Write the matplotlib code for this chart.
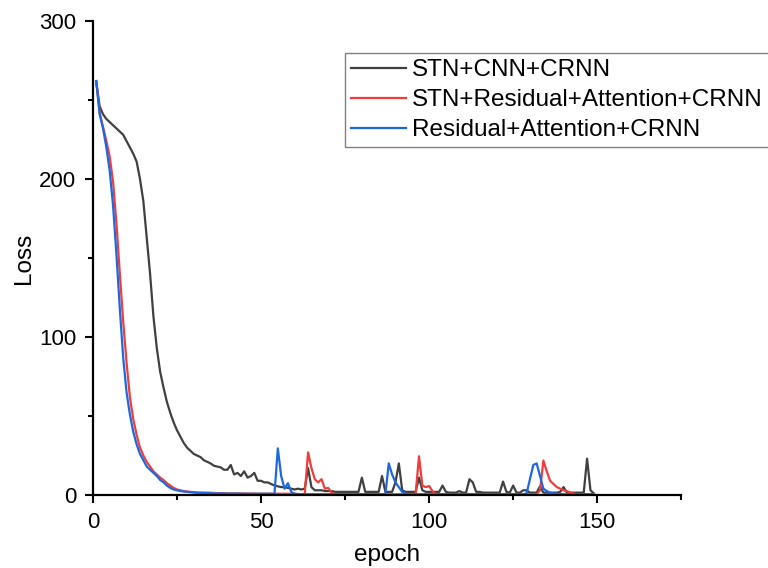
import matplotlib
matplotlib.use("Agg")
import numpy as np
import matplotlib.pyplot as plt
from matplotlib.ticker import MultipleLocator

plt.rcParams['font.family'] = ['Liberation Sans', 'DejaVu Sans']

# Loss per epoch
epochs = list(range(1, 150))

stn_cnn_crnn = [
    261, 246, 241, 238, 236, 234, 232, 230, 228, 224,
    220, 216, 211, 200, 186, 163, 140, 113, 93, 78,
    68, 59, 52, 46, 41, 37, 33, 30, 28, 26,
    25, 24, 22, 21, 20, 18.5, 18, 17.5, 16, 16,
    19, 13, 14, 12, 15, 11, 12, 14, 9, 9,
    8, 8, 7, 6, 5.5, 5, 5, 4.5, 4, 3.5,
    4, 3.5, 4, 17, 5, 3, 3, 3, 2.5, 2.5,
    2.5, 2, 2, 2, 2, 2, 2, 2, 2, 11,
    2, 2, 2, 2, 2, 12, 2, 2, 2, 8,
    20, 3, 2, 2, 2, 2, 11, 3, 2, 2,
    2, 2, 2, 6, 2, 1.5, 1.5, 1.5, 2.5, 1.5,
    1.5, 10, 8, 2, 2, 1.5, 1.5, 1.5, 1.5, 1.5,
    1.5, 8.5, 2, 1.5, 6, 1.5, 1.5, 3, 3, 1.5,
    1.5, 1.5, 5.5, 1.5, 1.5, 1.5, 1.5, 1.5, 2, 5,
    1.5, 1.5, 1.5, 1.5, 1.5, 1.5, 23, 3, 1,
]

stn_res_att_crnn = [
    262, 242, 233, 224, 214, 198, 172, 140, 110, 84,
    62, 48, 38, 30, 25, 21, 18, 15, 13, 11,
    9.5, 7.5, 6, 4.5, 3.5, 3, 2.5, 2.2, 2, 1.8,
    1.5, 1.5, 1.5, 1.5, 1.5, 1.3, 1.2, 1.2, 1.1, 1,
    1, 1, 1, 1, 1, 0.9, 0.9, 0.9, 0.8, 0.8,
    0.8, 0.8, 0.8, 0.8, 0.8, 0.8, 0.8, 0.8, 0.8, 0.8,
    0.6, 0.5, 0.5, 27, 17, 10, 8, 10, 4, 4.5,
    1.5, 0.5, 0.5, 0.5, 0.5, 0.5, 0.5, 0.5, 0.5, 0.5,
    0.5, 0.5, 0.5, 0.5, 0.5, 0.5, 0.5, 0.5, 0.5, 0.5,
    0.5, 0.5, 0.5, 0.5, 0.5, 0.8, 24.5, 6, 5, 5.7,
    2.5, 0.8, 0.5, 0.5, 0.5, 0.5, 0.5, 0.5, 0.5, 0.5,
    0.5, 0.5, 0.5, 0.5, 0.5, 0.5, 0.5, 0.5, 0.5, 0.5,
    0.5, 0.5, 0.5, 0.5, 0.5, 0.5, 0.5, 0.5, 0.5, 0.5,
    0.5, 0.5, 3, 21.8, 15, 9, 7, 5, 4, 3,
    2.5, 1.5, 1, 0.5, 0.5, 0.5, 0.5, 0.5, 0.5,
]

res_att_crnn = [
    262, 241, 232, 220, 205, 183, 152, 118, 87, 65,
    51, 40, 32, 26, 22, 18, 16, 14, 12, 9.5,
    8, 6, 4.5, 3.5, 3, 2.5, 2.2, 2, 1.8, 1.6,
    1.5, 1.4, 1.3, 1.2, 1.1, 1, 1, 1, 1, 0.9,
    0.9, 0.9, 0.9, 0.8, 0.8, 0.8, 0.8, 0.8, 0.8, 0.8,
    0.8, 0.8, 0.8, 0.5, 29.5, 12, 4, 7.5, 2, 0.8,
    0.5, 0.5, 0.5, 0.5, 0.5, 0.5, 0.5, 0.5, 0.5, 0.5,
    0.5, 0.5, 0.5, 0.5, 0.5, 0.5, 0.5, 0.5, 0.5, 0.5,
    0.5, 0.5, 0.5, 0.5, 0.5, 0.5, 0.5, 20, 13, 8,
    5, 2, 0.8, 0.5, 0.5, 0.5, 0.5, 0.5, 0.5, 0.5,
    0.5, 0.5, 0.5, 0.5, 0.5, 0.5, 0.5, 0.5, 0.5, 0.5,
    0.5, 0.5, 0.5, 0.5, 0.5, 0.5, 0.5, 0.5, 0.5, 0.5,
    0.5, 0.5, 0.5, 0.5, 0.5, 0.5, 0.5, 0.5, 1, 10,
    19, 20, 12, 4, 2.5, 1.5, 1, 0.8, 0.6, 0.5,
    0.5, 0.5, 0.5, 0.5, 0.5, 0.5, 0.5, 0.5, 0.5,
]

labels = ['STN+CNN+CRNN', 'STN+Residual+Attention+CRNN', 'Residual+Attention+CRNN']
colors = ['#404040', '#f23c3c', '#1c68e0']

fig = plt.figure(figsize=(7.68, 5.68), dpi=100)
ax = fig.add_axes([0.121, 0.1285, 0.766, 0.8345])

for ys, lab, c in zip([stn_cnn_crnn, stn_res_att_crnn, res_att_crnn], labels, colors):
    ax.plot(epochs, ys, color=c, lw=1.6, label=lab)

ax.set_xlim(0, 175)
ax.set_ylim(0, 300)
ax.xaxis.set_major_locator(MultipleLocator(50))
ax.xaxis.set_minor_locator(MultipleLocator(25))
ax.yaxis.set_major_locator(MultipleLocator(100))
ax.yaxis.set_minor_locator(MultipleLocator(50))

for s in ['top', 'right']:
    ax.spines[s].set_visible(False)
for s in ['left', 'bottom']:
    ax.spines[s].set_linewidth(1.6)

ax.tick_params(which='major', direction='out', length=6, width=1.5, labelsize=16, pad=6)
ax.tick_params(which='minor', direction='out', length=3.5, width=1.5)

ax.set_xlabel('epoch', fontsize=17.5, labelpad=8)
ax.set_ylabel('Loss', fontsize=17.5, labelpad=3)

leg = ax.legend(loc='upper left', bbox_to_anchor=(0.429, 0.932), borderaxespad=0,
                fontsize=17.5, fancybox=False, framealpha=1, edgecolor='#808080',
                handlelength=2.25, handletextpad=0.25, labelspacing=0.33,
                borderpad=0.25)
leg.get_frame().set_linewidth(1.0)

fig.savefig('out.png', dpi=100)
